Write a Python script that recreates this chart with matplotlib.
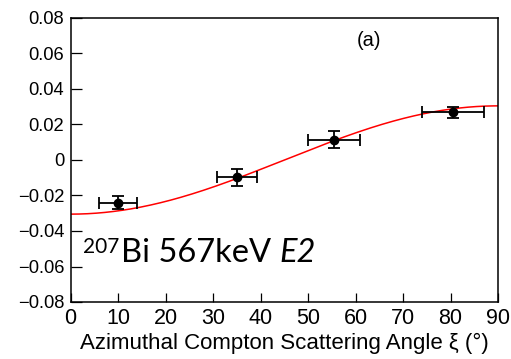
import numpy as np
import matplotlib
matplotlib.use("Agg")
import matplotlib.pyplot as plt
from matplotlib.ticker import FixedLocator, FuncFormatter

# Data
angles = [10.0, 35.0, 55.5, 80.6]
angle_err = [4.0, 4.2, 5.5, 6.5]
asym = [-0.0240, -0.0097, 0.0113, 0.0269]
asym_err = [0.0035, 0.0048, 0.0048, 0.0031]
fit_amplitude = 0.0305
x_ticks = [0, 10, 20, 30, 40, 50, 60, 70, 80, 90]
y_ticks = [-0.08, -0.06, -0.04, -0.02, 0, 0.02, 0.04, 0.06, 0.08]

plt.rcParams['font.family'] = ['Liberation Sans', 'DejaVu Sans']

W, H = 511, 359
fig = plt.figure(figsize=(W/100, H/100), dpi=100)
ax = fig.add_axes([70.5/W, 1-302/H, (498-70.5)/W, (302-18)/H])

xf = np.linspace(0, 90, 300)
ax.plot(xf, -fit_amplitude*np.cos(np.radians(2*xf)), color='#ff0000', lw=1.1, zorder=2)
ax.errorbar(angles, asym, xerr=angle_err, yerr=asym_err, fmt='o', color='black',
            ms=6, elinewidth=1.3, capsize=4.2, capthick=1.3, zorder=3)

ax.set_xlim(0, 90)
ax.set_ylim(-0.08, 0.08)
ax.xaxis.set_major_locator(FixedLocator(x_ticks))
ax.yaxis.set_major_locator(FixedLocator(y_ticks))

def yfmt(v, pos):
    if abs(v) < 1e-9:
        return '0'
    s = '%.2f' % abs(v)
    return ('\u2212' if v < 0 else '') + s
ax.yaxis.set_major_formatter(FuncFormatter(yfmt))
ax.xaxis.set_major_formatter(FuncFormatter(lambda v, p: '%d' % v))

ax.tick_params(axis='y', direction='in', length=7.7, width=0.9, labelsize=13.2, pad=4.5)
ax.tick_params(axis='x', direction='in', length=6.5, width=0.9, labelsize=15.5, pad=4)
for s in ax.spines.values():
    s.set_linewidth(1.1)

ax.set_xlabel('Azimuthal Compton Scattering Angle \u03be (\u00b0)', fontsize=16, labelpad=3)

fig.text(357/W, 1-40/H, '(a)', fontsize=14.5, ha='left', va='center')

# annotation: superscript + main + italic
base_y = 1-261.7/H
sup = fig.text(83/W, 1-253/H, '207', fontsize=15, family='Lato', ha='left', va='baseline')
fig.canvas.draw()
bb = sup.get_window_extent()
main = fig.text((bb.x1+1.5)/W, base_y, 'Bi 567keV', fontsize=23.5, family='Lato',
                ha='left', va='baseline')
fig.canvas.draw()
bb = main.get_window_extent()
fig.text((bb.x1+8)/W, base_y, 'E2', fontsize=23.5, family='Lato', style='italic',
         ha='left', va='baseline')

fig.savefig('out.png', dpi=100)
